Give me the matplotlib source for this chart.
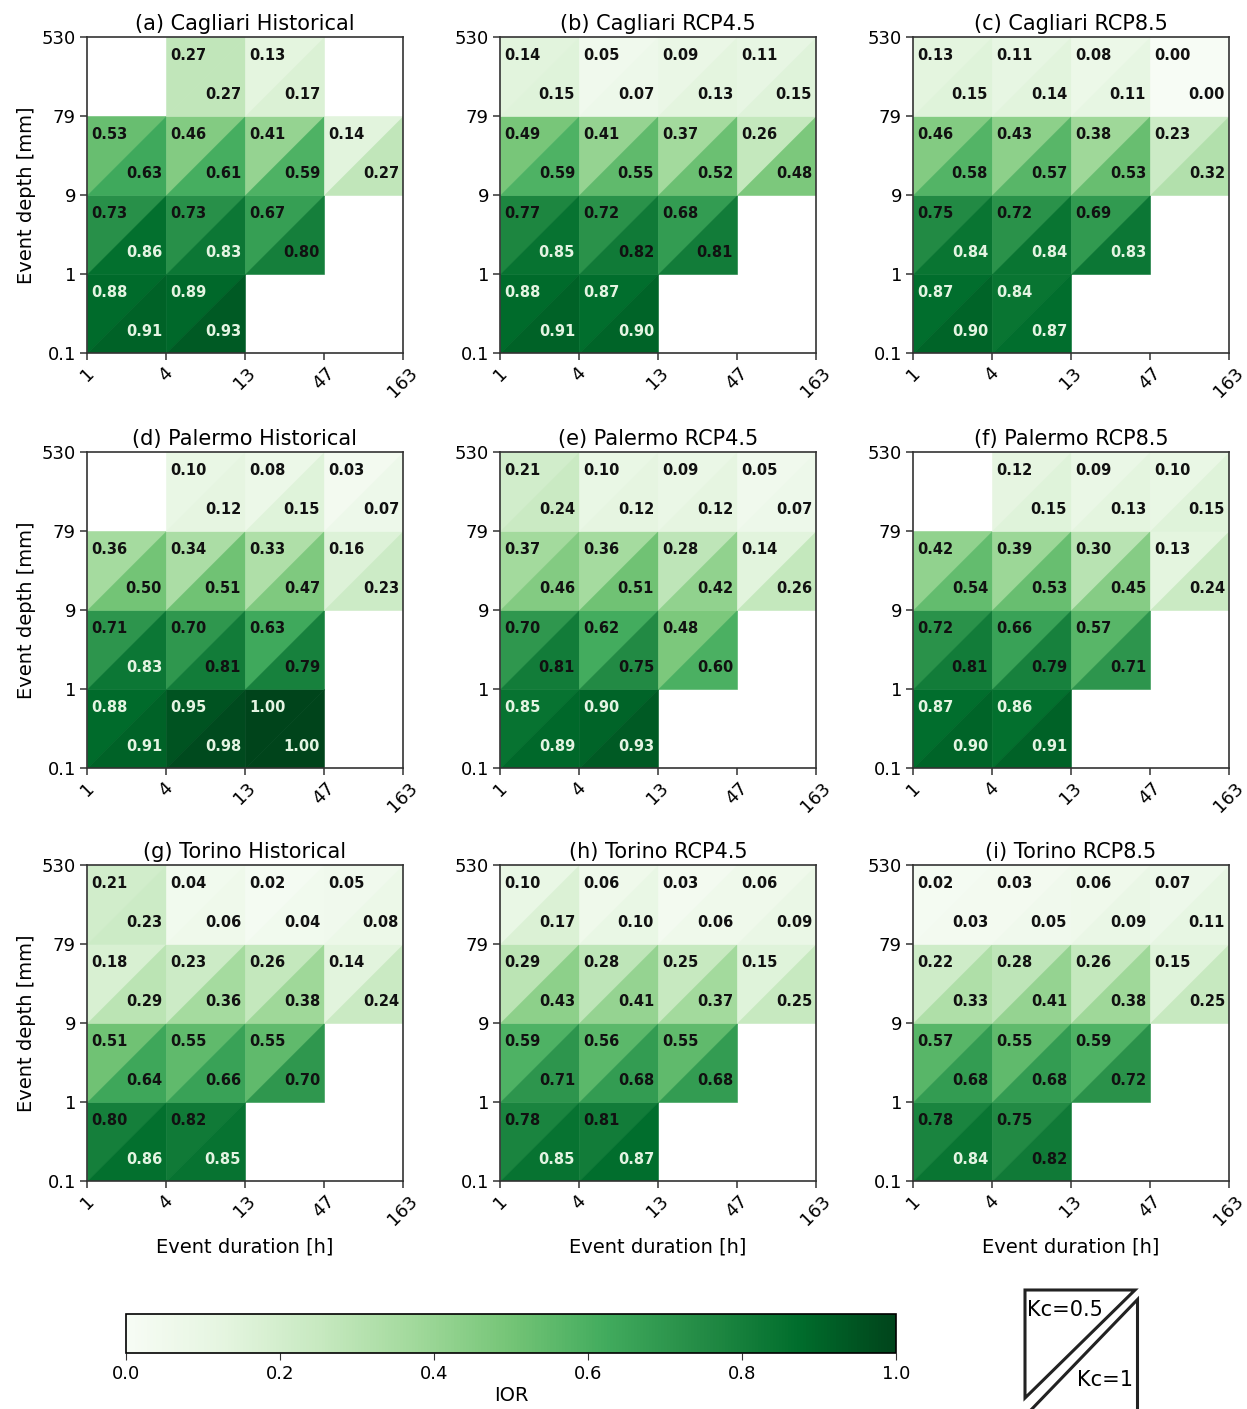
import numpy as np
import matplotlib
matplotlib.use('Agg')
import matplotlib.pyplot as plt
from matplotlib.collections import PolyCollection
from matplotlib.colors import Normalize
from matplotlib.cm import ScalarMappable
from matplotlib.patches import Polygon

nan = np.nan

durations = ['1', '4', '13', '47', '163']
depths = ['0.1', '1', '9', '79', '530']

titles = ['(a) Cagliari Historical', '(b) Cagliari RCP4.5', '(c) Cagliari RCP8.5',
          '(d) Palermo Historical', '(e) Palermo RCP4.5', '(f) Palermo RCP8.5',
          '(g) Torino Historical', '(h) Torino RCP4.5', '(i) Torino RCP8.5']

# Rows: depth classes from bottom (0.1-1 mm) to top (79-530 mm); columns: duration classes
cag_hist_k05 = [[0.88, 0.89, nan, nan], [0.73, 0.73, 0.67, nan], [0.53, 0.46, 0.41, 0.14], [nan, 0.27, 0.13, nan]]
cag_hist_k1 = [[0.91, 0.93, nan, nan], [0.86, 0.83, 0.80, nan], [0.63, 0.61, 0.59, 0.27], [nan, 0.27, 0.17, nan]]
cag_45_k05 = [[0.88, 0.87, nan, nan], [0.77, 0.72, 0.68, nan], [0.49, 0.41, 0.37, 0.26], [0.14, 0.05, 0.09, 0.11]]
cag_45_k1 = [[0.91, 0.90, nan, nan], [0.85, 0.82, 0.81, nan], [0.59, 0.55, 0.52, 0.48], [0.15, 0.07, 0.13, 0.15]]
cag_85_k05 = [[0.87, 0.84, nan, nan], [0.75, 0.72, 0.69, nan], [0.46, 0.43, 0.38, 0.23], [0.13, 0.11, 0.08, 0.00]]
cag_85_k1 = [[0.90, 0.87, nan, nan], [0.84, 0.84, 0.83, nan], [0.58, 0.57, 0.53, 0.32], [0.15, 0.14, 0.11, 0.00]]

pal_hist_k05 = [[0.88, 0.95, 1.00, nan], [0.71, 0.70, 0.63, nan], [0.36, 0.34, 0.33, 0.16], [nan, 0.10, 0.08, 0.03]]
pal_hist_k1 = [[0.91, 0.98, 1.00, nan], [0.83, 0.81, 0.79, nan], [0.50, 0.51, 0.47, 0.23], [nan, 0.12, 0.15, 0.07]]
pal_45_k05 = [[0.85, 0.90, nan, nan], [0.70, 0.62, 0.48, nan], [0.37, 0.36, 0.28, 0.14], [0.21, 0.10, 0.09, 0.05]]
pal_45_k1 = [[0.89, 0.93, nan, nan], [0.81, 0.75, 0.60, nan], [0.46, 0.51, 0.42, 0.26], [0.24, 0.12, 0.12, 0.07]]
pal_85_k05 = [[0.87, 0.86, nan, nan], [0.72, 0.66, 0.57, nan], [0.42, 0.39, 0.30, 0.13], [nan, 0.12, 0.09, 0.10]]
pal_85_k1 = [[0.90, 0.91, nan, nan], [0.81, 0.79, 0.71, nan], [0.54, 0.53, 0.45, 0.24], [nan, 0.15, 0.13, 0.15]]

tor_hist_k05 = [[0.80, 0.82, nan, nan], [0.51, 0.55, 0.55, nan], [0.18, 0.23, 0.26, 0.14], [0.21, 0.04, 0.02, 0.05]]
tor_hist_k1 = [[0.86, 0.85, nan, nan], [0.64, 0.66, 0.70, nan], [0.29, 0.36, 0.38, 0.24], [0.23, 0.06, 0.04, 0.08]]
tor_45_k05 = [[0.78, 0.81, nan, nan], [0.59, 0.56, 0.55, nan], [0.29, 0.28, 0.25, 0.15], [0.10, 0.06, 0.03, 0.06]]
tor_45_k1 = [[0.85, 0.87, nan, nan], [0.71, 0.68, 0.68, nan], [0.43, 0.41, 0.37, 0.25], [0.17, 0.10, 0.06, 0.09]]
tor_85_k05 = [[0.78, 0.75, nan, nan], [0.57, 0.55, 0.59, nan], [0.22, 0.28, 0.26, 0.15], [0.02, 0.03, 0.06, 0.07]]
tor_85_k1 = [[0.84, 0.82, nan, nan], [0.68, 0.68, 0.72, nan], [0.33, 0.41, 0.38, 0.25], [0.03, 0.05, 0.09, 0.11]]

panels_k05 = [cag_hist_k05, cag_45_k05, cag_85_k05, pal_hist_k05, pal_45_k05, pal_85_k05,
              tor_hist_k05, tor_45_k05, tor_85_k05]
panels_k1 = [cag_hist_k1, cag_45_k1, cag_85_k1, pal_hist_k1, pal_45_k1, pal_85_k1,
             tor_hist_k1, tor_45_k1, tor_85_k1]

W, H = 1247, 1409
fig = plt.figure(figsize=(W / 100, H / 100), dpi=100)
cmap = plt.get_cmap('Greens')
norm = Normalize(0, 1)

lefts = [87, 500, 913]
bottoms = [353, 768, 1181]
aw, ah = 316, 316

light_txt = '#e4f4e2'
dark_txt = '#111111'

for p in range(9):
    r, c = divmod(p, 3)
    ax = fig.add_axes([lefts[c] / W, 1 - bottoms[r] / H, aw / W, ah / H])
    k05 = np.array(panels_k05[p], dtype=float)
    k1 = np.array(panels_k1[p], dtype=float)
    verts, vals = [], []
    for i in range(4):
        for j in range(4):
            if not np.isnan(k05[i, j]):
                verts.append([(j, i), (j, i + 1), (j + 1, i + 1)])
                vals.append(k05[i, j])
            if not np.isnan(k1[i, j]):
                verts.append([(j, i), (j + 1, i), (j + 1, i + 1)])
                vals.append(k1[i, j])
    pc = PolyCollection(verts, array=np.array(vals), cmap=cmap, norm=norm,
                        edgecolors='face', linewidths=0.4)
    ax.add_collection(pc)
    for i in range(4):
        for j in range(4):
            v = k05[i, j]
            if not np.isnan(v):
                ax.text(j + 0.05, i + 1 - 0.23, f'{v:.2f}', ha='left', va='center',
                        fontsize=10.5, fontweight='bold',
                        color=light_txt if v >= 0.83 else dark_txt)
            v = k1[i, j]
            if not np.isnan(v):
                ax.text(j + 0.95, i + 0.27, f'{v:.2f}', ha='right', va='center',
                        fontsize=10.5, fontweight='bold',
                        color=light_txt if v >= 0.83 else dark_txt)
    ax.set_xlim(0, 4)
    ax.set_ylim(0, 4)
    ax.set_xticks(range(5))
    ax.set_xticklabels(durations, rotation=45, ha='center', fontsize=13)
    ax.set_yticks(range(5))
    ax.set_yticklabels(depths, fontsize=13)
    ax.tick_params(direction='out', length=5, width=1.1, color='#333333', pad=3)
    for s in ax.spines.values():
        s.set_linewidth(1.2)
        s.set_color('#333333')
    ax.set_title(titles[p], fontsize=15, pad=5)
    if c == 0:
        ax.set_ylabel('Event depth [mm]', fontsize=14, labelpad=4)
    if r == 2:
        ax.set_xlabel('Event duration [h]', fontsize=14, labelpad=6)

# Colorbar
cax = fig.add_axes([126 / W, 1 - 1353 / H, 770 / W, 39 / H])
sm = ScalarMappable(norm=norm, cmap=cmap)
cb = fig.colorbar(sm, cax=cax, orientation='horizontal')
cb.set_ticks([0.0, 0.2, 0.4, 0.6, 0.8, 1.0])
cb.ax.tick_params(labelsize=13, length=5, color='#333333')
cb.set_label('IOR', fontsize=14, labelpad=2)
cb.outline.set_linewidth(1.2)

# Kc legend
lax = fig.add_axes([0, 0, 1, 1], facecolor='none')
lax.set_xlim(0, W)
lax.set_ylim(H, 0)
lax.axis('off')
lax.add_patch(Polygon([(1025, 1290), (1135, 1290), (1025, 1398)], closed=True,
                      facecolor='white', edgecolor='#222222', linewidth=2.2, clip_on=False))
lax.add_patch(Polygon([(1137, 1299), (1137, 1412), (1028, 1412)], closed=True,
                      facecolor='white', edgecolor='#222222', linewidth=2.2, clip_on=False))
lax.text(1027, 1310, 'Kc=0.5', ha='left', va='center', fontsize=15)
lax.text(1133, 1380, 'Kc=1', ha='right', va='center', fontsize=15)

fig.savefig('out.png', dpi=100)
